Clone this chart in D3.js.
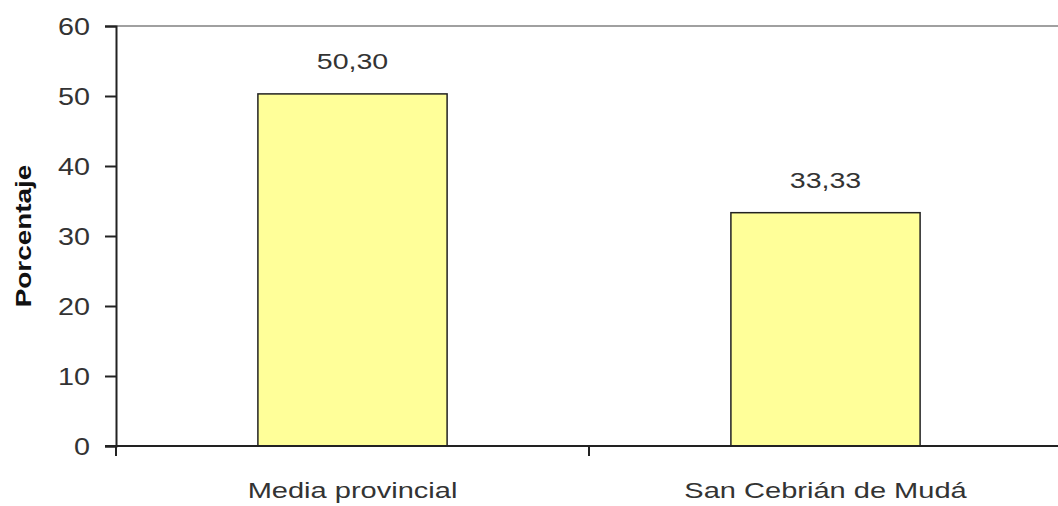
<!DOCTYPE html>
<html><head><meta charset="utf-8">
<script src="https://cdn.jsdelivr.net/npm/d3@7"></script>
<style>body{margin:0;background:#fff}svg{display:block}</style>
</head><body>
<svg id="c" width="1058" height="506"></svg>
<script>
const categories = ["Media provincial", "San Cebrián de Mudá"];
const values = [50.30, 33.33];
const valueLabels = ["50,30", "33,33"];
const yTicks = [0, 10, 20, 30, 40, 50, 60];

const svg = d3.select("#c");
const font = "'Liberation Sans', Arial, sans-serif";
const SX = 1.27; // horizontal stretch of the reference text
const x = d3.scaleBand().domain(categories).range([116, 1062]).paddingInner(0.6).paddingOuter(0.3);
const y = d3.scaleLinear().domain([0, 60]).range([446, 26]);

// top border
svg.append("line").attr("x1", 116).attr("x2", 1058).attr("y1", y(60)).attr("y2", y(60))
  .attr("stroke", "#a0a0a0").attr("stroke-width", 2);

// bars
svg.selectAll("rect.bar").data(categories).enter().append("rect")
  .attr("x", d => x(d)).attr("width", x.bandwidth())
  .attr("y", (d, i) => y(values[i])).attr("height", (d, i) => y(0) - y(values[i]))
  .attr("fill", "#ffff99").attr("stroke", "#222").attr("stroke-width", 1.5);

// value labels
svg.selectAll("text.vl").data(categories).enter().append("text")
  .attr("transform", (d, i) => `translate(${x(d) + x.bandwidth() / 2},${y(values[i]) - 25}) scale(${SX},1)`)
  .attr("text-anchor", "middle").attr("font-family", font).attr("font-size", 22.5).attr("fill", "#333")
  .text((d, i) => valueLabels[i]);

// y axis
const yAxis = svg.append("g").attr("transform", "translate(116,0)")
  .call(d3.axisLeft(y).tickValues(yTicks).tickSize(11).tickFormat(d3.format("d")));
yAxis.select(".domain").attr("stroke", "#222").attr("stroke-width", 2);
yAxis.selectAll(".tick line").attr("stroke", "#222").attr("stroke-width", 2);
yAxis.selectAll(".tick text")
  .attr("x", -26 / 1.25).attr("dy", "0.35em")
  .attr("transform", "scale(1.25,1)")
  .attr("font-family", font).attr("font-size", 23).attr("fill", "#333");

// x axis
svg.append("line").attr("x1", 105).attr("x2", 1058).attr("y1", y(0)).attr("y2", y(0))
  .attr("stroke", "#222").attr("stroke-width", 2);
const bounds = [116, 116 + (1062 - 116) / 2];
svg.selectAll("line.xt").data(bounds).enter().append("line")
  .attr("x1", d => d).attr("x2", d => d).attr("y1", y(0)).attr("y2", y(0) + 10)
  .attr("stroke", "#222").attr("stroke-width", 2);

svg.selectAll("text.cat").data(categories).enter().append("text")
  .attr("transform", d => `translate(${x(d) + x.bandwidth() / 2},498) scale(1.32,1)`)
  .attr("text-anchor", "middle").attr("font-family", font).attr("font-size", 22).attr("fill", "#333")
  .text(d => d);

// y label
svg.append("text").attr("transform", "translate(31,236) rotate(-90) scale(1.27,1)")
  .attr("text-anchor", "middle").attr("font-family", font).attr("font-size", 22).attr("font-weight", "bold").attr("fill", "#111")
  .text("Porcentaje");
</script>
</body></html>
